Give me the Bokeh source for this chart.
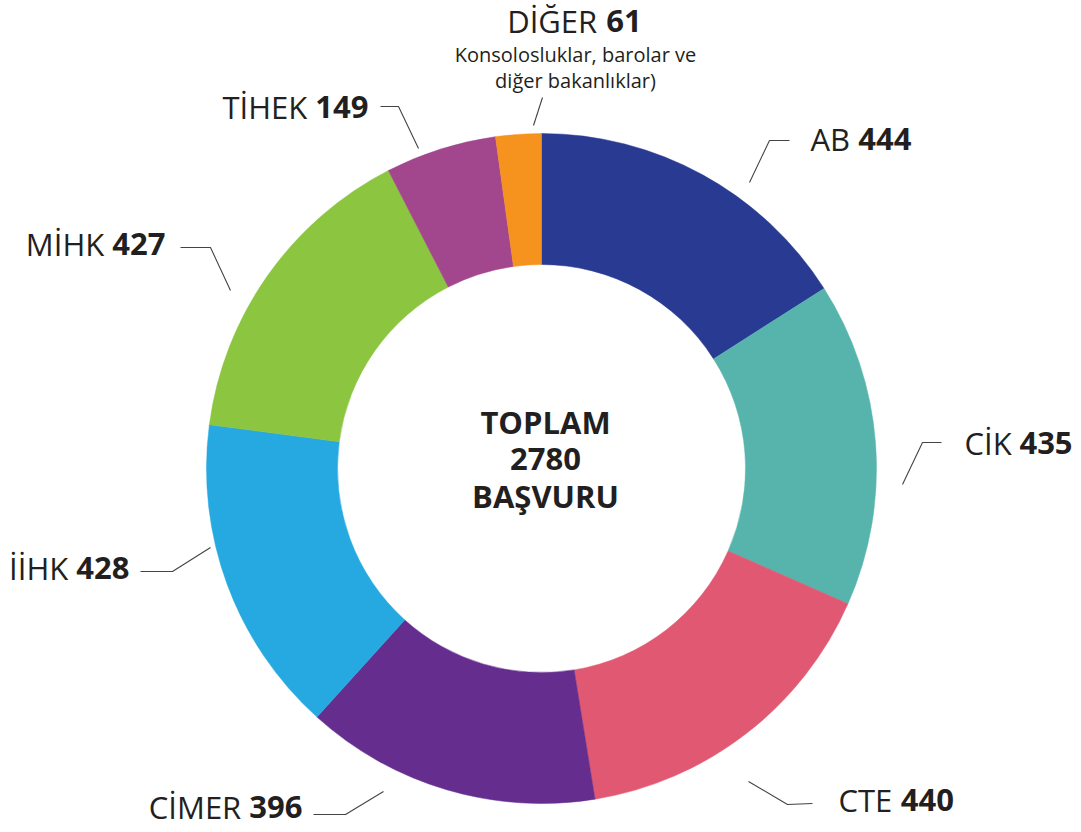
import math
from bokeh.plotting import figure
from bokeh.models import Range1d, ColumnDataSource
from bokeh.core.properties import value
from bokeh.embed import file_html
from bokeh.resources import INLINE

# ---- data ----
categories = ["AB", "CİK", "CTE", "CİMER", "İİHK", "MİHK", "TİHEK", "DİĞER"]
counts = [444, 435, 440, 396, 428, 427, 149, 61]
colors = ["#283a91", "#57b4ad", "#e05871", "#652d8e", "#25a9e0", "#8cc540", "#a2478e", "#f6921e"]
center_lines = ["TOPLAM", str(sum(counts)), "BAŞVURU"]
diger_note = ["Konsolosluklar, barolar ve", "diğer bakanlıklar)"]

# ---- layout (picture pixel coordinates) ----
W, H = 1081, 832
CX, CY = 541, 468
R_OUT, R_IN = 335, 204
FONT = "Open Sans"
FS = 31
TXT = "#231f20"
LEADER = "#444444"
BASE_K = 0.36  # shift to place the alphabetic baseline where wanted

def Y(py):
    return H - py

def YT(py, fs):
    return H - (py - BASE_K * fs)

# label placement: leader polyline points, text anchor, side
label_layout = {
    "AB":    dict(pts=[(749, 182), (769, 140), (789, 140)], x=810, base=150, side="L"),
    "CİK":   dict(pts=[(902, 484), (922, 442), (941, 442)], x=964, base=454, side="L"),
    "CTE":   dict(pts=[(748, 781), (787, 804), (812, 803)], x=838, base=811, side="L"),
    "CİMER": dict(pts=[(383, 791), (345, 814), (313, 814)], x=302, base=818, side="R"),
    "İİHK":  dict(pts=[(210, 547), (172, 571), (140, 571)], x=129, base=579, side="R"),
    "MİHK":  dict(pts=[(230, 290), (210, 247), (180, 247)], x=165, base=255, side="R"),
    "TİHEK": dict(pts=[(418, 148), (398, 106), (380, 106)], x=368, base=118, side="R"),
    "DİĞER": dict(pts=[(533, 125), (542, 97)], x=574, base=32, side="C"),
}

# approximate Open Sans advance widths (em) for label measuring
adv = {"A": .633, "B": .648, "C": .631, "D": .729, "E": .556, "Ğ": .734, "H": .738,
       "İ": .30, "K": .58, "M": .903, "R": .621, "T": .559, " ": .26}
DIGIT = .572

def name_w(s, fs):
    return sum(adv.get(ch, .6) for ch in s) * fs

p = figure(width=W, height=H, x_range=Range1d(0, W), y_range=Range1d(0, H),
           output_backend="svg", toolbar_location=None, min_border=0,
           outline_line_color=None, background_fill_color="white",
           border_fill_color="white")
p.axis.visible = False
p.grid.visible = False

# ---- donut ----
total = sum(counts)
starts, ends = [], []
acc = 0
for v in counts:
    starts.append(math.radians(90 - acc / total * 360))
    acc += v
    ends.append(math.radians(90 - acc / total * 360))

src = ColumnDataSource(dict(x=[CX] * len(counts), y=[Y(CY)] * len(counts),
                            start=starts, end=ends, color=colors))
p.annular_wedge(x="x", y="y", inner_radius=R_IN, outer_radius=R_OUT,
                start_angle="start", end_angle="end", direction="clock",
                fill_color="color", line_color="color", line_width=0.5, source=src)

# ---- centre text ----
CFS = 31
for i, t in enumerate(center_lines):
    p.text(x=[CX + 4], y=[YT(433 + i * 37, CFS)], text=[t], text_font=value(FONT),
           text_font_style="bold", text_font_size=f"{CFS}px", text_color=TXT,
           text_align="center", text_baseline="alphabetic")

def txt(x, py, s, fs, bold, align):
    p.text(x=[x], y=[YT(py, fs)], text=[s], text_font=value(FONT),
           text_font_style="bold" if bold else "normal", text_font_size=f"{fs}px",
           text_color=TXT, text_align=align, text_baseline="alphabetic")

# ---- labels ----
for cat, v in zip(categories, counts):
    L = label_layout[cat]
    xs = [pt[0] for pt in L["pts"]]
    ys = [Y(pt[1]) for pt in L["pts"]]
    p.line(xs, ys, line_color=LEADER, line_width=1.1)
    vs = str(v)
    vw = len(vs) * DIGIT * FS
    if L["side"] == "L":
        x0 = L["x"]
        txt(x0, L["base"], cat, FS, False, "left")
        txt(x0 + name_w(cat + " ", FS), L["base"], vs, FS, True, "left")
    elif L["side"] == "R":
        x1 = L["x"]
        txt(x1, L["base"], vs, FS, True, "right")
        txt(x1 - vw - adv[" "] * FS, L["base"], cat, FS, False, "right")
    else:
        xc = L["x"]
        nw = name_w(cat + " ", FS)
        x0 = xc - (nw + vw) / 2
        txt(x0, L["base"], cat, FS, False, "left")
        txt(x0 + nw, L["base"], vs, FS, True, "left")
        for j, line in enumerate(diger_note):
            txt(xc + 1, 61 + j * 26, line, 20, False, "center")

open("out.html", "w").write(file_html(p, INLINE))
